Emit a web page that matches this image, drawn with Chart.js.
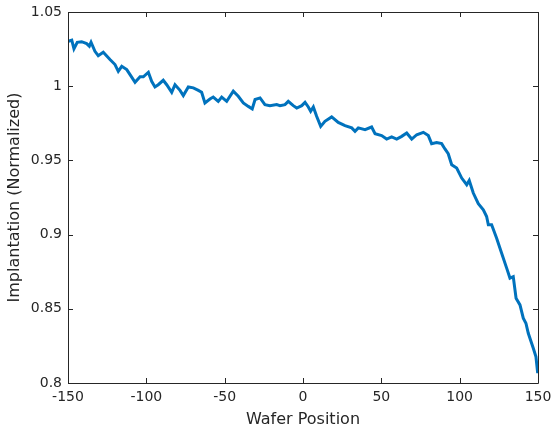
<!DOCTYPE html>
<html>
<head>
<meta charset="utf-8">
<script src="https://cdn.jsdelivr.net/npm/chart.js@4"></script>
<style>
html,body{margin:0;padding:0;background:#fff;}
#wrap{width:551px;height:432px;position:relative;}
</style>
</head>
<body>
<div id="wrap"><canvas id="c" width="551" height="432"></canvas></div>
<script>
const positions = [-149.8,-147.6,-146.2,-144.1,-141.3,-138.1,-136.4,-135.3,-132.8,-130.7,-127.5,-123.2,-120.0,-117.9,-115.7,-112.5,-110.4,-107.2,-104.0,-101.9,-98.7,-96.6,-94.5,-92.4,-89.2,-87.0,-83.8,-81.7,-78.5,-76.4,-73.2,-70.0,-66.8,-64.7,-62.6,-59.4,-57.3,-54.1,-51.9,-48.7,-44.5,-41.3,-38.1,-34.9,-32.4,-30.6,-27.4,-24.3,-21.1,-16.8,-14.7,-11.5,-9.4,-6.2,-4.0,-0.8,1.3,3.4,4.9,6.6,8.7,11.3,14.0,18.3,22.5,26.8,31.1,33.2,35.3,39.6,43.8,46.0,50.2,53.4,56.6,59.8,63.0,66.2,69.4,72.6,76.8,80.0,82.1,85.3,88.5,90.6,92.7,94.9,98.1,101.3,104.5,106.1,108.7,111.9,115.1,117.2,118.3,120.4,123.6,126.8,130.0,132.1,134.2,136.0,138.5,140.6,142.3,143.8,147.0,148.7,149.8];
const implantation = [1.0303,1.031,1.0252,1.0296,1.030,1.0287,1.027,1.0296,1.0235,1.0206,1.0229,1.018,1.0146,1.010,1.0134,1.0112,1.0078,1.0026,1.0063,1.0063,1.0094,1.0033,0.9995,1.001,1.004,1.001,0.9959,1.001,0.9972,0.9937,0.9995,0.9989,0.9972,0.9959,0.9887,0.9914,0.9927,0.9898,0.9927,0.9898,0.9966,0.9932,0.9887,0.9864,0.9847,0.9910,0.9921,0.9876,0.9869,0.9876,0.9869,0.9876,0.9898,0.9869,0.9853,0.9869,0.9891,0.986,0.9831,0.986,0.9797,0.9729,0.9763,0.9793,0.9756,0.9734,0.9719,0.9696,0.9719,0.9707,0.9725,0.968,0.9667,0.9644,0.9658,0.9644,0.9662,0.9685,0.9644,0.9673,0.9689,0.9667,0.9613,0.9621,0.9613,0.9577,0.9545,0.9471,0.9449,0.9381,0.9336,0.9365,0.9280,0.9208,0.9167,0.9122,0.9066,0.9066,0.8976,0.8875,0.8774,0.8707,0.8717,0.8571,0.8526,0.8437,0.8403,0.8335,0.8234,0.8177,0.8066];
const xTicks = [-150,-100,-50,0,50,100,150];
const yTicks = [0.8,0.85,0.9,0.95,1,1.05];
const xTitle = 'Wafer Position';
const yTitle = 'Implantation (Normalized)';

const axisColor = '#262626';
const FONT = '"DejaVu Sans", sans-serif';

const boxPlugin = {
  id: 'boxTicks',
  afterDatasetsDraw(chart) {
    const {ctx, chartArea: a, scales} = chart;
    ctx.save();
    ctx.strokeStyle = axisColor;
    ctx.lineWidth = 1;
    ctx.beginPath();
    ctx.rect(Math.round(a.left) + 0.5, Math.round(a.top) + 0.5, Math.round(a.right - a.left), Math.round(a.bottom - a.top));
    ctx.stroke();
    const L = 5;
    ctx.beginPath();
    xTicks.forEach(v => {
      const x = Math.round(scales.x.getPixelForValue(v)) + 0.5;
      ctx.moveTo(x, a.bottom); ctx.lineTo(x, a.bottom - L);
      ctx.moveTo(x, a.top); ctx.lineTo(x, a.top + L);
    });
    yTicks.forEach(v => {
      const y = Math.round(scales.y.getPixelForValue(v)) + 0.5;
      ctx.moveTo(a.left, y); ctx.lineTo(a.left + L, y);
      ctx.moveTo(a.right, y); ctx.lineTo(a.right - L, y);
    });
    ctx.stroke();
    ctx.restore();
  }
};

new Chart(document.getElementById('c'), {
  type: 'line',
  data: {
    datasets: [{
      data: positions.map((p, i) => ({x: p, y: implantation[i]})),
      borderColor: '#0072BD',
      borderWidth: 3,
      pointRadius: 0,
      tension: 0,
      fill: false
    }]
  },
  options: {
    responsive: false,
    animation: false,
    events: [],
    layout: {padding: {top: 12, right: 13, left: 0, bottom: 0}},
    plugins: {legend: {display: false}, tooltip: {enabled: false}},
    scales: {
      x: {
        type: 'linear', min: -150, max: 150,
        afterBuildTicks: s => { s.ticks = xTicks.map(v => ({value: v})); },
        afterFit: s => { s.height = 49; s.paddingLeft = 0; s.paddingRight = 0; },
        grid: {display: false, drawTicks: false},
        border: {display: false},
        ticks: {color: axisColor, font: {family: FONT, size: 14}, padding: 6, maxRotation: 0,
          callback: v => String(v)},
        title: {display: true, text: xTitle, color: axisColor, font: {family: FONT, size: 16}, padding: {top: 0, bottom: 3}}
      },
      y: {
        type: 'linear', min: 0.8, max: 1.05,
        afterBuildTicks: s => { s.ticks = yTicks.map(v => ({value: v})); },
        afterFit: s => { s.width = 68; s.paddingTop = 0; s.paddingBottom = 0; },
        grid: {display: false, drawTicks: false},
        border: {display: false},
        ticks: {color: axisColor, font: {family: FONT, size: 14}, padding: 6,
          callback: v => String(v)},
        title: {display: true, text: yTitle, color: axisColor, font: {family: FONT, size: 16}, padding: {top: 5, bottom: 0}}
      }
    }
  },
  plugins: [boxPlugin]
});
</script>
</body>
</html>
